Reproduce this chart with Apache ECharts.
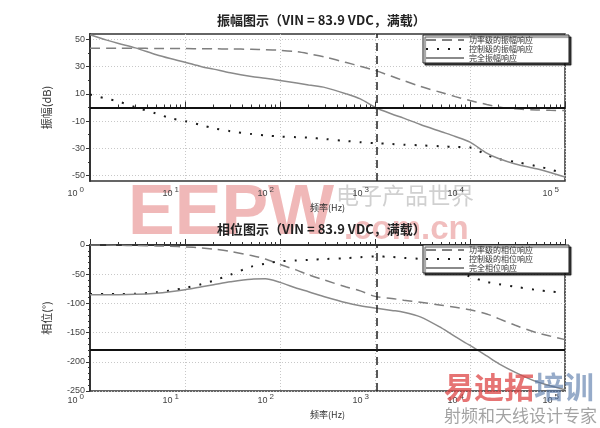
<!DOCTYPE html>
<html><head><meta charset="utf-8">
<script src="https://cdn.jsdelivr.net/npm/echarts@6/dist/echarts.min.js"></script>
<style>html,body{margin:0;padding:0;background:#fff}#c{width:600px;height:428px}</style>
</head><body><div id="c"></div>
<script>
// ---- data ----
const freqs = [1, 1.5, 2, 3, 5, 7, 10, 15, 20, 30, 50, 70, 100, 150, 200, 300, 500, 700, 1000, 1500, 2000, 3000, 5000, 7000, 10000, 15000, 20000, 30000, 50000, 70000, 100000];
const magPower   = [43.5, 43.5, 43.5, 43.5, 43.4, 43.4, 43.3, 43.2, 43.1, 43.0, 42.8, 42.5, 42.0, 41.0, 39.5, 37.0, 33.0, 30.3, 27.2, 22.9, 19.8, 15.5, 11.0, 8.0, 5.1, 2.2, 0.4, -1.0, -1.8, -2.1, -2.2];
const magControl = [9.5, 6.4, 4.4, 0.2, -4.5, -7.8, -10.0, -13.0, -15.2, -17.4, -19.5, -20.5, -21.3, -21.8, -22.2, -23.2, -24.6, -25.5, -26.2, -26.8, -27.3, -27.8, -28.5, -29.0, -29.3, -35.0, -37.8, -40.0, -43.0, -45.5, -48.8];
const magTotal   = [53.5, 49.5, 47.0, 43.8, 38.8, 36.0, 33.3, 30.0, 28.2, 25.5, 22.8, 21.5, 19.9, 18.0, 16.5, 14.6, 10.0, 6.3, 0.2, -4.8, -7.8, -12.5, -17.8, -21.3, -25.5, -33.5, -37.5, -41.5, -45.0, -47.8, -51.0];
const phPower    = [0, 0, -0.5, -1, -1.5, -2.2, -3.2, -5, -7, -11, -18, -24, -33.5, -43, -51, -60.5, -72, -78.5, -88, -91.5, -94.5, -98, -103, -106.5, -111, -118, -126, -137.5, -150, -156, -162];
const phControl  = [-84, -84, -84, -83.5, -81, -78, -73.6, -67, -61, -51, -37, -32, -28, -26.5, -25.5, -24, -22.5, -21, -19.5, -20.5, -22, -24, -33, -43, -54, -63, -67, -71.5, -77, -79.5, -82];
const phTotal    = [-85, -85, -85, -84.5, -82.5, -80, -76.5, -71.5, -68, -63, -58.5, -58, -64, -74, -80, -89, -99, -104, -108, -112, -115, -123, -142, -157, -172, -190, -203, -218, -234, -241, -248];
const magNames = ['功率级的振幅响应', '控制级的振幅响应', '完全振幅响应'];
const phNames  = ['功率级的相位响应', '控制级的相位响应', '完全相位响应'];
const magTicks = [-50, -30, -10, 10, 30, 50];
const magMinorTicks = [-40, -20, 0, 20, 40];
const titles = ['振幅图示（VIN = 83.9 VDC，满载）', '相位图示（VIN = 83.9 VDC，满载）'];
const xName = '频率(Hz)';
const yNames = ['振幅(dB)', '相位(°)'];
const crossoverFreq = 1050;
const magRefLine = 0;
const phRefLine = -180;

const pairs = arr => freqs.map((f, i) => [f, arr[i]]);
const CJK = '"Noto Sans CJK SC", "Liberation Sans", sans-serif';

const styles = [
  { color: '#7f7f7f', width: 1.5, type: [10, 6] },
  { color: '#1a1a1a', width: 2, type: [2, 9] },
  { color: '#8a8a8a', width: 1.5, type: 'solid' }
];

function xAxis(gi, nameGap, margin) {
  return {
    gridIndex: gi, type: 'log', logBase: 10, min: 1, max: 100000,
    name: xName, nameLocation: 'middle', nameGap: nameGap,
    nameTextStyle: { fontSize: 9, color: '#333', fontFamily: CJK },
    axisLine: { show: true, lineStyle: { color: '#333', width: 2 } },
    axisTick: { show: true, inside: true, length: 6, lineStyle: { color: '#333', width: 1 } },
    minorTick: { show: true, splitNumber: 9, length: 3, lineStyle: { color: '#333', width: 1 } },
    axisLabel: {
      formatter: v => '{b|10}{s|' + Math.round(Math.log10(v)) + '}',
      rich: {
        b: { fontSize: 9, color: '#444', padding: [4, 0, 0, 0] },
        s: { fontSize: 8, color: '#444', padding: [0, 0, 3, 2] }
      },
      align: 'right', padding: [0, 6, 0, 0], margin: margin
    },
    splitLine: { show: true, lineStyle: { color: '#c8c8c8', type: [1, 2], width: 1 } }
  };
}

function legend(top, names) {
  return {
    data: names, orient: 'vertical', left: 423, top: top,
    itemWidth: 38, itemHeight: 8, itemGap: 1,
    padding: [1, 36, 1, 2],
    backgroundColor: '#fff', borderColor: '#222', borderWidth: 1,
    shadowColor: 'rgba(0,0,0,0.75)', shadowOffsetX: 2, shadowOffsetY: 2, shadowBlur: 1,
    itemStyle: { opacity: 0, color: 'transparent', borderWidth: 0 },
    textStyle: { fontSize: 8, color: '#333', fontFamily: CJK, lineHeight: 8 }
  };
}

function mkSeries(names, arrays, xi, yi, refY) {
  return arrays.map((arr, k) => {
    const s = {
      name: names[k], type: 'line', xAxisIndex: xi, yAxisIndex: yi,
      data: pairs(arr), symbol: 'none', smooth: 0.3,
      lineStyle: Object.assign({ cap: 'butt' }, styles[k]),
      itemStyle: { color: styles[k].color }, z: 3
    };
    if (k === 2) {
      s.markLine = {
        silent: true, symbol: 'none', label: { show: false },
        data: [
          { yAxis: refY, lineStyle: { color: '#111', width: 2, type: 'solid' } },
          { xAxis: crossoverFreq, lineStyle: { color: '#222', width: 1.5, type: [8, 5] } }
        ]
      };
    }
    return s;
  });
}

const chart = echarts.init(document.getElementById('c'), null, { renderer: 'canvas' });
chart.setOption({
  animation: false,
  backgroundColor: '#fff',
  title: [
    { text: titles[0], left: 217, top: 14, padding: 0, textStyle: { fontSize: 13, fontWeight: 'bold', color: '#222', fontFamily: CJK } },
    { text: titles[1], left: 217, top: 223, padding: 0, textStyle: { fontSize: 13, fontWeight: 'bold', color: '#222', fontFamily: CJK } }
  ],
  legend: [legend(35, magNames), legend(245, phNames)],
  grid: [
    { left: 90, right: 35, top: 34, height: 147, show: true, borderColor: '#333', borderWidth: 1.5, backgroundColor: 'transparent' },
    { left: 90, right: 35, top: 245, height: 146, show: true, borderColor: '#333', borderWidth: 1.5, backgroundColor: 'transparent' }
  ],
  xAxis: [xAxis(0, 22, 4), xAxis(1, 19, 1)],
  yAxis: [
    {
      gridIndex: 0, type: 'value', min: -54, max: 54, position: 'left',
      name: yNames[0], nameLocation: 'middle', nameGap: 38,
      nameTextStyle: { fontSize: 11, color: '#333', fontFamily: CJK },
      axisLine: { show: true, lineStyle: { color: '#333', width: 2 } },
      axisTick: { show: true, customValues: magTicks, length: 4, lineStyle: { color: '#333' } },
      axisLabel: { customValues: magTicks, fontSize: 9, color: '#444', margin: 5 },
      splitLine: { show: true, lineStyle: { color: '#c8c8c8', type: [1, 2] } }
    },
    {
      gridIndex: 0, type: 'value', min: -54, max: 54, position: 'left',
      axisLine: { show: false },
      axisTick: { show: true, customValues: magMinorTicks, length: 2, lineStyle: { color: '#333' } },
      axisLabel: { show: false },
      splitLine: { show: false }
    },
    {
      gridIndex: 1, type: 'value', min: -250, max: 0, interval: 50, position: 'left',
      name: yNames[1], nameLocation: 'middle', nameGap: 38,
      nameTextStyle: { fontSize: 11, color: '#333', fontFamily: CJK },
      axisLine: { show: true, lineStyle: { color: '#333', width: 2 } },
      axisTick: { show: true, length: 4, lineStyle: { color: '#333' } },
      minorTick: { show: true, splitNumber: 5, length: 2, lineStyle: { color: '#333' } },
      axisLabel: { fontSize: 9, color: '#444', margin: 5 },
      splitLine: { show: true, lineStyle: { color: '#c8c8c8', type: [1, 2] } }
    }
  ],
  series: [].concat(
    mkSeries(magNames, [magPower, magControl, magTotal], 0, 0, magRefLine),
    mkSeries(phNames, [phPower, phControl, phTotal], 1, 2, phRefLine)
  ),
  graphic: [
    { type: 'text', left: 128, top: 180, z: -1, silent: true, style: { text: 'EEPW', font: 'bold 70px "Liberation Sans"', fill: 'rgba(228,125,125,0.55)' } },
    { type: 'text', left: 344, top: 213, z: -1, silent: true, style: { text: '.com.cn', font: 'bold 33px "Liberation Sans"', fill: 'rgba(228,125,125,0.5)' } },
    { type: 'text', left: 336, top: 184, z: -1, silent: true, style: { text: '电子产品世界', font: '23px "Noto Sans CJK SC"', fill: 'rgba(150,150,150,0.45)' } },
    { type: 'text', left: 444, top: 372, z: 100, silent: true, style: { text: '易迪拓', font: 'bold 30px "Noto Sans CJK SC"', fill: 'rgba(222,70,70,0.75)' } },
    { type: 'text', left: 534, top: 372, z: 100, silent: true, style: { text: '培训', font: 'bold 30px "Noto Sans CJK SC"', fill: 'rgba(80,115,165,0.6)' } },
    { type: 'text', left: 444, top: 407, z: 100, silent: true, style: { text: '射频和天线设计专家', font: '17px "Noto Sans CJK SC"', fill: 'rgba(140,140,140,0.8)' } }
  ]
});
</script>
</body></html>
